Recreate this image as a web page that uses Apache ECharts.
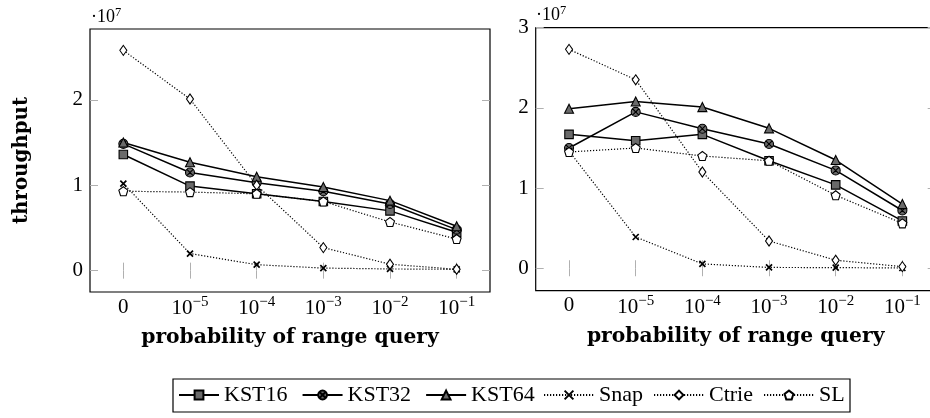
<!DOCTYPE html>
<html>
<head>
<meta charset="utf-8">
<script src="https://cdn.jsdelivr.net/npm/echarts@6/dist/echarts.min.js"></script>
<style>
  html, body { margin: 0; padding: 0; background: #fff; }
  #chart { width: 930px; height: 418px; }
</style>
</head>
<body>
<div id="chart"></div>
<script>
// ---- data ----
const categories = ['0', '1e-5', '1e-4', '1e-3', '1e-2', '1e-1'];
const tickExponents = [null, -5, -4, -3, -2, -1];
const seriesNames = ['KST16', 'KST32', 'KST64', 'Snap', 'Ctrie', 'SL'];
const solidNames = ['KST16', 'KST32', 'KST64'];
const dottedNames = ['Snap', 'Ctrie', 'SL'];

// left panel (throughput)
const leftKST16 = [1.36e7, 0.99e7, 0.90e7, 0.81e7, 0.70e7, 0.45e7];
const leftKST32 = [1.485e7, 1.15e7, 1.03e7, 0.93e7, 0.78e7, 0.48e7];
const leftKST64 = [1.50e7, 1.27e7, 1.10e7, 0.98e7, 0.82e7, 0.52e7];
const leftSnap  = [1.02e7, 0.20e7, 0.07e7, 0.03e7, 0.02e7, 0.015e7];
const leftCtrie = [2.58e7, 2.01e7, 1.00e7, 0.27e7, 0.075e7, 0.016e7];
const leftSL    = [0.93e7, 0.92e7, 0.90e7, 0.81e7, 0.57e7, 0.37e7];

// right panel
const rightKST16 = [1.67e7, 1.59e7, 1.67e7, 1.34e7, 1.04e7, 0.59e7];
const rightKST32 = [1.50e7, 1.95e7, 1.74e7, 1.55e7, 1.22e7, 0.72e7];
const rightKST64 = [1.99e7, 2.08e7, 2.01e7, 1.745e7, 1.35e7, 0.80e7];
const rightSnap  = [1.46e7, 0.39e7, 0.054e7, 0.01e7, 0.008e7, 0.003e7];
const rightCtrie = [2.73e7, 2.35e7, 1.20e7, 0.34e7, 0.10e7, 0.02e7];
const rightSL    = [1.45e7, 1.50e7, 1.40e7, 1.34e7, 0.91e7, 0.56e7];

const leftYTicks = [0, 1e7, 2e7];
const rightYTicks = [0, 1e7, 2e7, 3e7];

// ---- styles ----
const SERIF = 'Liberation Serif';
const BOLD = 'DejaVu Serif';
const GRAY = '#6a6a6a';
const TICK = '#b0b0b0';
const solid = { color: '#000', width: 1.5, type: 'solid' };
const dotted = { color: '#000', width: 1.2, type: [1.2, 1.8] };
const styles = {
  KST16: { symbol: 'rect', symbolSize: 8.5, fill: GRAY, bw: 1.1, line: solid },
  KST32: { symbol: 'path://M10,0A10,10,0,1,1,10,20A10,10,0,1,1,10,0ZM3,3L17,17M17,3L3,17', symbolSize: 9, fill: GRAY, bw: 1.1, line: solid },
  KST64: { symbol: 'triangle', symbolSize: 9, fill: GRAY, bw: 1.1, line: solid },
  Snap:  { symbol: 'path://M0,0L10,10M10,0L0,10', symbolSize: 6, fill: '#000', bw: 1.7, line: dotted },
  Ctrie: { symbol: 'diamond', symbolSize: [7, 10], fill: '#fff', bw: 1.1, line: dotted },
  SL:    { symbol: 'path://M50,0L97.55,34.55L79.39,90.45L20.61,90.45L2.45,34.55Z', symbolSize: 9, fill: '#fff', bw: 1.1, line: dotted }
};

function mkSeries(name, data, idx) {
  const s = styles[name];
  return {
    name, type: 'line', data,
    xAxisIndex: idx * 2, yAxisIndex: idx * 2,
    symbol: s.symbol, symbolSize: s.symbolSize, symbolKeepAspect: false,
    showAllSymbol: true,
    lineStyle: s.line,
    itemStyle: { color: s.fill, borderColor: '#000', borderWidth: s.bw },
    emphasis: { disabled: true },
    animation: false
  };
}

const xRich = {
  z: { fontSize: 21, fontFamily: SERIF, color: '#000', lineHeight: 24 },
  n: { fontSize: 21, fontFamily: SERIF, color: '#000', lineHeight: 24, padding: [5, 0, 0, 0], verticalAlign: 'bottom' },
  s: { fontSize: 15, fontFamily: SERIF, color: '#000', lineHeight: 15, verticalAlign: 'top' }
};
function xFmt(v, i) {
  const e = tickExponents[i];
  if (e === null || e === undefined) return '{z|' + v + '}';
  return '{n|10}{s|\u2212' + Math.abs(e) + '}';
}

const grids = [
  { left: 90, top: 29, width: 400, height: 263 },
  { left: 535.7, top: 27.7, width: 400, height: 263 }
];
const yRanges = [[-0.25e7, 2.83e7], [-0.28e7, 3.0e7]];
const yTicks = [leftYTicks, rightYTicks];

const xAxes = [], yAxes = [];
[0, 1].forEach(g => {
  xAxes.push({
    type: 'category', gridIndex: g, data: categories, boundaryGap: true, position: 'bottom',
    axisLine: { show: false },
    axisTick: { show: true, inside: true, alignWithLabel: true, length: 8, lineStyle: { color: TICK, width: 1 } },
    axisLabel: { show: true, formatter: xFmt, rich: xRich, margin: 3, interval: 0 },
    splitLine: { show: false },
    name: 'probability of range query', nameLocation: 'middle', nameGap: 36,
    nameTextStyle: { fontFamily: BOLD, fontWeight: 'bold', fontSize: 20.3, color: '#000' }
  });
  xAxes.push({
    type: 'category', gridIndex: g, data: categories, boundaryGap: true, position: 'top',
    axisLine: { show: false },
    axisTick: { show: true, inside: true, alignWithLabel: true, length: 8, lineStyle: { color: TICK, width: 1 } },
    axisLabel: { show: false }, splitLine: { show: false }
  });
  yAxes.push({
    type: 'value', gridIndex: g, position: 'left', min: yRanges[g][0], max: yRanges[g][1],
    axisLine: { show: false },
    axisTick: { show: true, inside: true, length: 8, customValues: yTicks[g], lineStyle: { color: TICK, width: 1 } },
    axisLabel: { show: true, customValues: yTicks[g], margin: 7, fontSize: 21, fontFamily: SERIF, color: '#000',
      formatter: v => String(Math.round(v / 1e7)) },
    splitLine: { show: false },
    name: g === 0 ? 'throughput' : '', nameLocation: 'middle', nameGap: 58,
    nameTextStyle: { fontFamily: BOLD, fontWeight: 'bold', fontSize: 19.8, color: '#000' }
  });
  yAxes.push({
    type: 'value', gridIndex: g, position: 'right', min: yRanges[g][0], max: yRanges[g][1],
    axisLine: { show: false },
    axisTick: { show: true, inside: true, length: 8, customValues: yTicks[g], lineStyle: { color: TICK, width: 1 } },
    axisLabel: { show: false }, splitLine: { show: false }
  });
});

const series = [
  mkSeries('KST16', leftKST16, 0), mkSeries('KST32', leftKST32, 0), mkSeries('KST64', leftKST64, 0),
  mkSeries('Snap', leftSnap, 0), mkSeries('Ctrie', leftCtrie, 0), mkSeries('SL', leftSL, 0),
  mkSeries('KST16', rightKST16, 1), mkSeries('KST32', rightKST32, 1), mkSeries('KST64', rightKST64, 1),
  mkSeries('Snap', rightSnap, 1), mkSeries('Ctrie', rightCtrie, 1), mkSeries('SL', rightSL, 1)
];

const expRich = {
  a: { fontSize: 18, fontFamily: SERIF, color: '#000', lineHeight: 20, verticalAlign: 'bottom' },
  b: { fontSize: 12.5, fontFamily: SERIF, color: '#000', lineHeight: 12, verticalAlign: 'top' }
};

const legendCommon = {
  orient: 'horizontal', top: 384, itemHeight: 11, padding: 0,
  textStyle: { fontFamily: SERIF, fontSize: 22, color: '#000', lineHeight: 22 },
  selectedMode: false
};

const chart = echarts.init(document.getElementById('chart'), null, { renderer: 'canvas' });
chart.setOption({
  animation: false,
  backgroundColor: '#fff',
  grid: grids.map(g => Object.assign({ show: true, borderColor: '#000', borderWidth: 1.2, backgroundColor: 'transparent',
    containLabel: false, outerBoundsMode: 'none' }, g)),
  xAxis: xAxes,
  yAxis: yAxes,
  series,
  legend: [
    Object.assign({ data: solidNames, left: 178, itemWidth: 40, itemGap: 14 }, legendCommon),
    Object.assign({ data: dottedNames, left: 543, itemWidth: 50, itemGap: 10 }, legendCommon)
  ],
  graphic: [
    { type: 'rect', shape: { x: 173, y: 379, width: 677, height: 33 },
      style: { fill: 'none', stroke: '#000', lineWidth: 1.2 }, silent: true },
    { type: 'text', left: 91, top: 6, style: { text: '{a|\u00b710}{b|7}', rich: expRich } },
    { type: 'text', left: 536, top: 4, style: { text: '{a|\u00b710}{b|7}', rich: expRich } }
  ]
});
</script>
</body>
</html>
